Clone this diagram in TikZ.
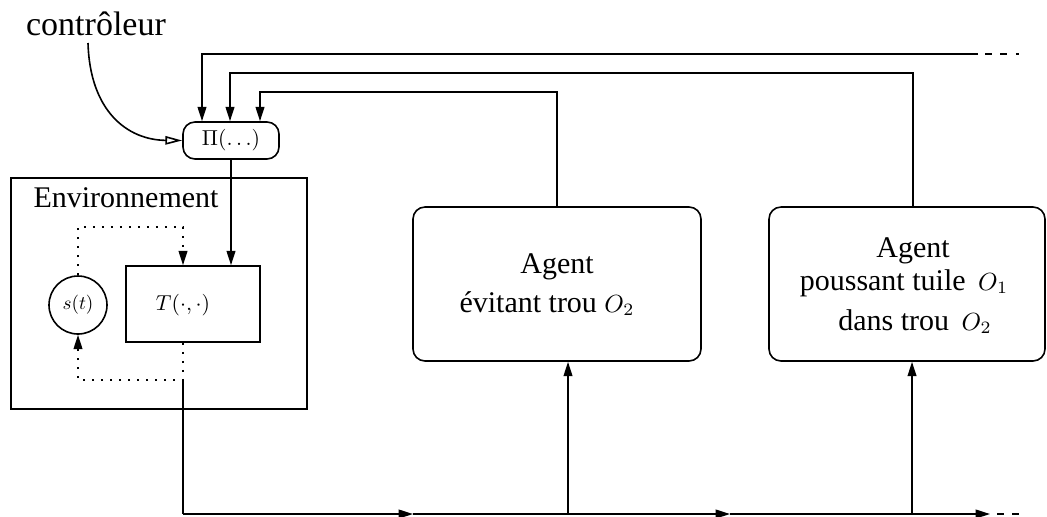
\documentclass[tikz,border=0pt]{standalone}
\usepackage{graphicx}
\usepackage{fontspec}
\setmainfont{Liberation Serif}
\usetikzlibrary{arrows.meta,calc}
\newcommand\txtf{\fontsize{7.5}{9}\selectfont}
\newcommand\mth[2]{\scalebox{#1}{\fontsize{10}{12}\selectfont$#2$}}
\newcommand\mO[1]{\mth{0.62}{O_{#1}}}
\begin{document}
\begin{tikzpicture}[x=0.25pt,y=-0.25pt,line width=0.4pt,
  arr/.style={-{Triangle[length=3.6pt,width=2.2pt]}},
  openarr/.style={-{Triangle[open,length=4.2pt,width=2.1pt]}},
  rbox/.style={draw,rounded corners=3pt,inner sep=0pt},
  sbox/.style={draw,inner sep=0pt},
  dotline/.style={dash pattern=on 0.45pt off 1.8pt},
  tail/.style={dash pattern=on 1.75pt off 2.1pt,dash phase=2.1pt},
  lbl/.style={anchor=base,inner sep=0pt,font=\txtf}]
\useasboundingbox (0,0) rectangle (1047,516);

% nodes
\node[lbl,font=\fontsize{8.5}{10}\selectfont] (ctl) at (96,35) {contrôleur};
\node[rbox,minimum width=24pt,minimum height=9.25pt] (pi) at (231,140.5) {\mth{0.54}{\Pi(\ldots)}};
\node[sbox,minimum width=74pt,minimum height=57.75pt] (env) at (159,293.5) {};
\node[lbl] (envl) at (126,207) {Environnement};
\node[sbox,minimum width=33.5pt,minimum height=19pt] (T) at (193,304) {};
\node[inner sep=0pt] (Tl) at (183,305) {\mth{0.54}{T(\cdot,\cdot)}};
\node[draw,circle,minimum size=14.5pt,inner sep=0pt] (s) at (78,305) {\mth{0.48}{s(t)}};

\node[rbox,minimum width=72pt,minimum height=38.5pt] (a1) at (557,284) {};
\node[lbl] (a1l1) at (557,273) {Agent};
\node[lbl] (a1l2) at (547,312) {évitant trou \mO{2}};

\node[rbox,minimum width=69pt,minimum height=38.5pt] (a2) at (907,284) {};
\node[lbl] (a2l1) at (913,257) {Agent};
\node[lbl] (a2l2) at (904,290) {poussant tuile\, \mO{1}};
\node[lbl] (a2l3) at (915,330) {dans trou\, \mO{2}};

% coordinates
\coordinate (c0) at (88,43);
\coordinate (f1) at (202,54);
\coordinate (f1r) at (978,54);
\coordinate (f1e) at (1019,54);
\coordinate (f2) at (230,73);
\coordinate (f2r) at (913,73);
\coordinate (f3) at (260,92);
\coordinate (dtop) at (183,227);
\coordinate (dbot) at (183,380);
\coordinate (b0) at (183,514);
\coordinate (b1) at (413,514);
\coordinate (b2) at (730,514);
\coordinate (b3) at (990,514);
\coordinate (bend) at (1025,514);
\coordinate (u1) at (568,514);
\coordinate (u2) at (912,514);

% controller curve
\draw[openarr] (c0) .. controls (90,112) and (128,140) .. (pi.west);

% feedback lines into Pi
\draw[tail] (f1r) -- (f1e);
\draw[arr] (f1r) -- (f1) -- (f1 |- pi.north);
\draw[arr] (f2r |- a2.north) -- (f2r) -- (f2) -- (f2 |- pi.north);
\draw[arr] (a1.north) |- (f3) -- (f3 |- pi.north);

% Pi to T
\draw[arr] (pi.south) -- (pi.south |- T.north);

% dotted loop
\draw[dotline,arr] (s.north) |- (dtop) -- (dtop |- T.north);
\draw[dotline,arr] (dbot |- T.south) -- (dbot) -| (s.south);

% output line
\draw (dbot) -- (b0);
\draw[arr] (b0) -- (b1);
\draw[arr] (b1) -- (b2);
\draw[arr] (b2) -- (b3);
\draw[tail] (b3) -- (bend);
\draw[arr] (u1) -- (u1 |- a1.south);
\draw[arr] (u2) -- (u2 |- a2.south);
\end{tikzpicture}
\end{document}
